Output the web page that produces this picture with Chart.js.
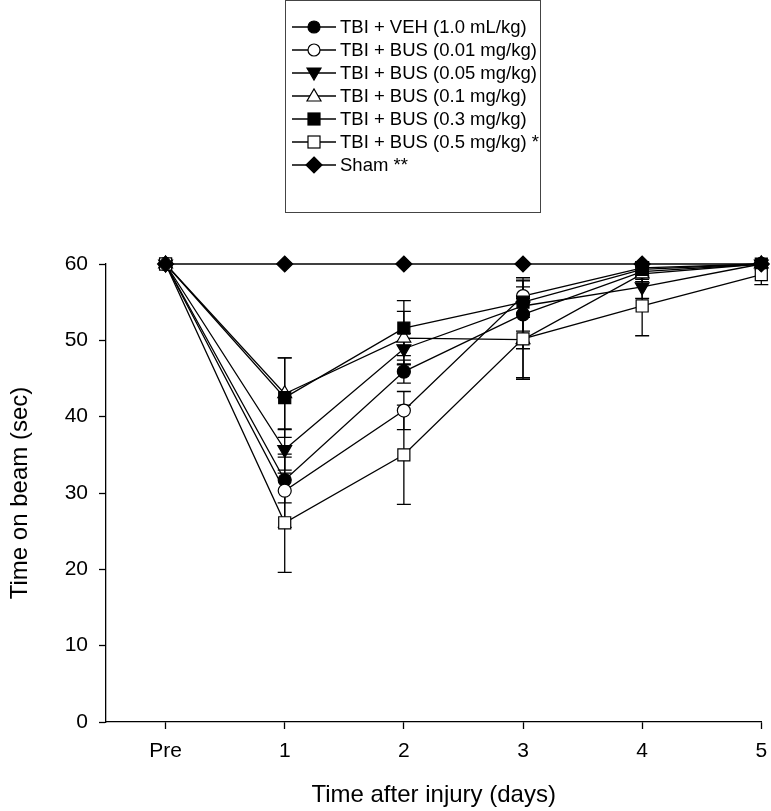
<!DOCTYPE html>
<html>
<head>
<meta charset="utf-8">
<script src="https://cdn.jsdelivr.net/npm/chart.js@4.4.0/dist/chart.umd.min.js"></script>
<style>
body { margin: 0; background: #fff; font-family: "Liberation Sans", Arial, sans-serif; }
#wrap { position: relative; width: 771px; height: 811px; }
#legend { position: absolute; left: 285px; top: 0; width: 256px; height: 213px; border: 1px solid #444; padding-top: 14px; box-sizing: border-box; }
.row { height: 23px; display: flex; align-items: center; font-size: 18.5px; color: #000; white-space: nowrap; }
.row svg { flex-shrink: 0; margin-left: 6px; margin-right: 4px; }
</style>
</head>
<body>
<div id="wrap">
  <canvas id="myChart" width="771" height="811"></canvas>
  <div id="legend"></div>
</div>
<script>
// x positions (Pre = 0) and their labels
var days = [0, 1, 2, 3, 4, 5];
var tickLabels = ['Pre', '1', '2', '3', '4', '5'];

var seriesNames = [
    'TBI + VEH (1.0 mL/kg)',
    'TBI + BUS (0.01 mg/kg)',
    'TBI + BUS (0.05 mg/kg)',
    'TBI + BUS (0.1 mg/kg)',
    'TBI + BUS (0.3 mg/kg)',
    'TBI + BUS (0.5 mg/kg) *',
    'Sham **'
];

// mean time on beam (sec)
var veh    = [60, 31.7, 45.9, 53.4, 59.0, 60];
var bus001 = [60, 30.3, 40.8, 55.8, 59.5, 60];
var bus005 = [60, 35.7, 48.9, 54.5, 57.0, 60];
var bus01  = [60, 43.0, 50.3, 50.1, 58.7, 60];
var bus03  = [60, 42.5, 51.6, 55.0, 59.3, 60];
var bus05  = [60, 26.1, 35.0, 50.2, 54.5, 58.6];
var sham   = [60, 60, 60, 60, 60, 60];

// error bars (+/- SEM)
var vehErr    = [0, 3.0, 1.5, 4.5, 1.0, 0];
var bus001Err = [0, 4.8, 2.5, 2.4, 0.8, 0];
var bus005Err = [0, 2.7, 2.0, 3.3, 1.5, 0];
var bus01Err  = [0, 4.7, 3.5, 5.0, 1.0, 0];
var bus03Err  = [0, 5.2, 3.6, 2.0, 1.0, 0];
var bus05Err  = [0, 6.5, 6.5, 5.3, 3.9, 1.3];
var shamErr   = [0, 0, 0, 0, 0, 0];

var values = [veh, bus001, bus005, bus01, bus03, bus05, sham];
var errors = [vehErr, bus001Err, bus005Err, bus01Err, bus03Err, bus05Err, shamErr];

// marker: [pointStyle, filled, rotation, radius]
var markers = [
    ['circle', true, 0, 6.5],
    ['circle', false, 0, 6.5],
    ['triangle', true, 180, 8],
    ['triangle', false, 0, 8],
    ['rect', true, 0, 8.5],
    ['rect', false, 0, 8.5],
    ['rectRot', true, 0, 8]
];

var datasets = values.map(function (vals, i) {
    var m = markers[i];
    return {
        label: seriesNames[i],
        data: vals.map(function (v, j) { return { x: days[j], y: v }; }),
        errors: errors[i],
        order: values.length - i, // later series drawn on top
        clip: false,
        borderColor: '#000',
        borderWidth: 1.3,
        pointStyle: m[0],
        pointRotation: m[2],
        pointRadius: m[3],
        pointBorderWidth: 1.2,
        pointBackgroundColor: m[1] ? '#000' : '#fff',
        pointBorderColor: '#000',
        showLine: true,
        fill: false,
        tension: 0
    };
});

// error bars drawn under the markers
var errorBars = {
    id: 'errorBars',
    beforeDatasetsDraw: function (chart) {
        var ctx = chart.ctx;
        var xs = chart.scales.x, ys = chart.scales.y;
        ctx.save();
        ctx.strokeStyle = '#000';
        ctx.lineWidth = 1.3;
        chart.data.datasets.forEach(function (ds) {
            ds.data.forEach(function (p, j) {
                var e = ds.errors[j];
                if (!e) return;
                var px = xs.getPixelForValue(p.x);
                var top = ys.getPixelForValue(p.y + e);
                var bot = ys.getPixelForValue(p.y - e);
                ctx.beginPath();
                ctx.moveTo(px, top); ctx.lineTo(px, bot);
                ctx.moveTo(px - 7, top); ctx.lineTo(px + 7, top);
                ctx.moveTo(px - 7, bot); ctx.lineTo(px + 7, bot);
                ctx.stroke();
            });
        });
        ctx.restore();
    }
};

var ctx = document.getElementById('myChart').getContext('2d');
var chart = new Chart(ctx, {
    type: 'scatter',
    data: { datasets: datasets },
    plugins: [errorBars],
    options: {
        responsive: false,
        animation: false,
        layout: { padding: { top: 264, right: 9, left: 0, bottom: 0 } },
        plugins: { legend: { display: false }, tooltip: { enabled: false } },
        scales: {
            x: {
                type: 'linear', min: -0.5, max: 5,
                afterBuildTicks: function (s) { s.ticks = days.map(function (v) { return { value: v }; }); },
                afterFit: function (s) { s.height = 89; s.paddingRight = 0; s.paddingLeft = 0; },
                ticks: {
                    callback: function (v) { return tickLabels[days.indexOf(v)]; },
                    color: '#000', font: { size: 21, family: 'Liberation Sans' },
                    padding: 10, maxRotation: 0, autoSkip: false
                },
                grid: { drawOnChartArea: false, tickLength: 7, tickColor: '#000', tickWidth: 1.3 },
                border: { color: '#000', width: 1.3 },
                title: { display: true, text: 'Time after injury (days)', color: '#000',
                         font: { size: 24, family: 'Liberation Sans' }, padding: { top: 4, bottom: 1 } }
            },
            y: {
                min: 0, max: 60,
                afterFit: function (s) { s.width = 106; s.paddingTop = 0; s.paddingBottom = 0; },
                ticks: { stepSize: 10, color: '#000', font: { size: 21, family: 'Liberation Sans' }, padding: 11 },
                grid: { drawOnChartArea: false, tickLength: 7, tickColor: '#000', tickWidth: 1.3 },
                border: { color: '#000', width: 1.3 },
                title: { display: true, text: 'Time on beam (sec)', color: '#000',
                         font: { size: 24, family: 'Liberation Sans' }, padding: { top: 6, bottom: 4 } }
            }
        }
    }
});

// legend box: line + marker, then name
function markerSvg(m) {
    var fill = m[1] ? '#000' : '#fff';
    var shape;
    if (m[0] === 'circle') shape = '<circle cx="22" cy="10" r="6" fill="' + fill + '" stroke="#000" stroke-width="1.2"/>';
    else if (m[0] === 'rect') shape = '<rect x="16" y="4" width="12" height="12" fill="' + fill + '" stroke="#000" stroke-width="1.2"/>';
    else if (m[0] === 'rectRot') shape = '<polygon points="22,2 30,10 22,18 14,10" fill="' + fill + '" stroke="#000" stroke-width="1.2"/>';
    else if (m[2] === 180) shape = '<polygon points="15,5 29,5 22,17" fill="' + fill + '" stroke="#000" stroke-width="1.2"/>';
    else shape = '<polygon points="15,15 29,15 22,3" fill="' + fill + '" stroke="#000" stroke-width="1.2"/>';
    return '<svg width="44" height="20"><line x1="0" y1="10" x2="44" y2="10" stroke="#000" stroke-width="1.3"/>' + shape + '</svg>';
}
var legendHtml = '';
for (var i = 0; i < seriesNames.length; i++) {
    legendHtml += '<div class="row">' + markerSvg(markers[i]) + '<span>' + seriesNames[i] + '</span></div>';
}
document.getElementById('legend').innerHTML = legendHtml;
</script>
</body>
</html>
